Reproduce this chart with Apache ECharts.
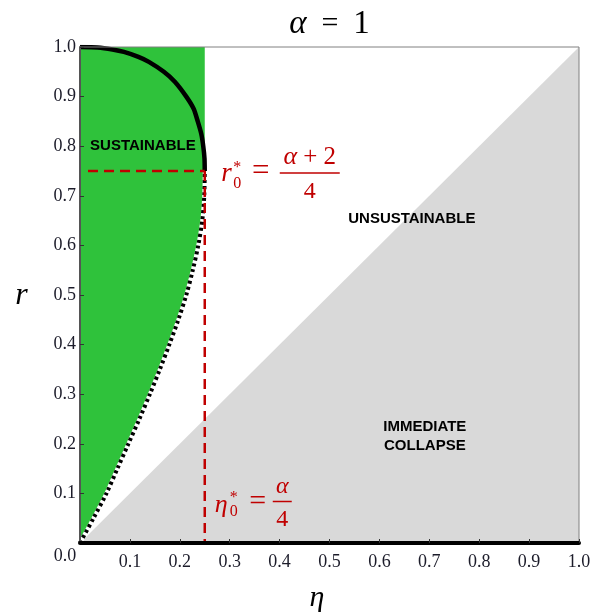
<!DOCTYPE html>
<html><head><meta charset="utf-8">
<script src="https://cdn.jsdelivr.net/npm/echarts@6/dist/echarts.min.js"></script>
<style>html,body{margin:0;padding:0;background:#fff}#c{width:604px;height:615px}</style>
</head><body><div id="c"></div>
<script>
// ---- data ----
const tickValues = [0,0.1,0.2,0.3,0.4,0.5,0.6,0.7,0.8,0.9,1.0];
// lower (dotted) boundary of the sustainable region: eta vs r
const lowerR   = [0, 0.05, 0.1, 0.15, 0.2, 0.25, 0.3, 0.35, 0.4, 0.45, 0.5, 0.55, 0.6, 0.65, 0.7, 0.75];
const lowerEta = [0, 0.027, 0.053, 0.075, 0.097, 0.119, 0.14, 0.16, 0.179, 0.197, 0.213, 0.226, 0.237, 0.245, 0.249, 0.25];
// upper (solid) arc
const upperEta = [0, 0.035, 0.065, 0.088, 0.117, 0.138, 0.168, 0.19, 0.213, 0.228, 0.236, 0.243, 0.247, 0.2495, 0.25];
const upperR   = [1, 0.999, 0.995, 0.99, 0.98, 0.97, 0.95, 0.93, 0.9, 0.875, 0.85, 0.825, 0.8, 0.775, 0.75];
// critical point
const etaStar = 0.25, rStar = 0.75;
const dashStartEta = 0.016;
// immediate-collapse boundary r = eta
const diagEta = [0, 1];
const diagR   = [0, 1];

const GREEN = '#2fc23b', GRAY = '#d9d9d9', RED = '#c00000';
const SERIF = '"Liberation Serif", "DejaVu Serif", serif';
const SANS = '"Liberation Sans", Arial, sans-serif';

const zip = (a,b)=>a.map((v,i)=>[v,b[i]]);

const axisCommon = {
  type:'value', min:0, max:1, interval:0.1, z:10,
  splitLine:{show:false},
  axisTick:{show:true, inside:true, length:4, lineStyle:{color:'#333', width:1}},
  axisLabel:{fontFamily:SERIF, fontSize:18, color:'#1c1c2a', showMinLabel:false,
             formatter:v=>v.toFixed(1)}
};

const option = {
  animation:false,
  backgroundColor:'#fff',
  grid:{left:80, top:47, width:499, height:496, show:true, borderColor:'#808080', borderWidth:1, z:9},
  xAxis:Object.assign({}, axisCommon, {
    axisLine:{show:true, lineStyle:{color:'#000', width:4}},
    axisLabel:Object.assign({}, axisCommon.axisLabel, {margin:10})
  }),
  yAxis:Object.assign({}, axisCommon, {
    axisLine:{show:true, lineStyle:{color:'#555', width:2}},
    axisLabel:Object.assign({}, axisCommon.axisLabel, {margin:4})
  }),
  series:[
    { // immediate collapse region
      type:'line', data:zip(diagEta, diagR), symbol:'none', z:1,
      lineStyle:{width:0}, areaStyle:{color:GRAY, opacity:1}
    },
    { // sustainable region
      type:'custom', z:2, data:[[0,0]],
      renderItem:(params, api)=>{
        const pts=[[0,0]];
        for(let i=0;i<lowerR.length;i++) pts.push([lowerEta[i], lowerR[i]]);
        pts.push([etaStar,1],[0,1]);
        return {type:'polygon', shape:{points:pts.map(p=>api.coord(p))}, style:{fill:GREEN}};
      }
    },
    { // dotted curve base
      type:'line', data:zip(lowerEta, lowerR), symbol:'none', smooth:0.3, z:3,
      lineStyle:{color:'#fff', width:4}
    },
    { // dotted curve
      type:'line', data:zip(lowerEta, lowerR), symbol:'none', smooth:0.3, z:4,
      lineStyle:{color:'#000', width:4, type:[3,3], cap:'butt'}
    },
    { // solid arc
      type:'line', data:zip(upperEta, upperR), symbol:'none', smooth:0.2, z:4,
      lineStyle:{color:'#000', width:4.5, join:'round'}
    },
    { // horizontal dashed
      type:'line', data:[[dashStartEta, rStar],[etaStar, rStar]], symbol:'none', z:5,
      lineStyle:{color:RED, width:2.5, type:[10,6]}
    },
    { // vertical dashed
      type:'line', data:[[etaStar, rStar],[etaStar, 0]], symbol:'none', z:5,
      lineStyle:{color:RED, width:2.5, type:[10,6]}
    }
  ]
};

const chart = echarts.init(document.getElementById('c'), null, {renderer:'canvas'});
chart.setOption(option);
const P = (x,y)=>chart.convertToPixel({gridIndex:0},[x,y]);

const txt = (x,y,text,font,color,align,extra)=>Object.assign({
  type:'text', z:100, x:x, y:y,
  style:{text:text, font:font, fill:color||'#000', textAlign:align||'center', textVerticalAlign:'middle'}
}, extra||{});

const g = [];
// title
const tc = P(0.5, 1);
g.push({type:'text', z:100, x:tc[0], y:24, style:{
  text:'{i|α}{s|  =  }{n|1}', textAlign:'center', textVerticalAlign:'middle',
  rich:{i:{font:'italic 33px '+SERIF, fill:'#000'}, s:{font:'30px '+SERIF, fill:'#000'}, n:{font:'33px '+SERIF, fill:'#000'}}
}});
// axis names
const yc = P(0, 0.5);
g.push(txt(21.5, yc[1]+1, 'r', 'italic 32px '+SERIF, '#000'));
const xc = P(0.475, 0);
g.push(txt(xc[0], 598, 'η', 'italic 30px '+SERIF, '#000'));
// 0.0 corner label
const o = P(0,0);
g.push(txt(o[0]-15, o[1]+13, '0.0', '18px '+SERIF, '#1c1c2a'));
// region labels
const s = P(0.126, 0.8);
g.push(txt(s[0], s[1], 'SUSTAINABLE', 'bold 15px '+SANS, '#000'));
const u = P(0.665, 0.653);
g.push(txt(u[0], u[1], 'UNSUSTAINABLE', 'bold 15px '+SANS, '#000'));
const ic = P(0.691, 0.216);
g.push(txt(ic[0], ic[1]-9, 'IMMEDIATE', 'bold 15px '+SANS, '#000'));
g.push(txt(ic[0], ic[1]+9.5, 'COLLAPSE', 'bold 15px '+SANS, '#000'));
// r0* annotation
const a = P(etaStar, rStar);
g.push(txt(a[0]+16.5, a[1]+3, 'r', 'italic 27px '+SERIF, RED, 'left'));
g.push(txt(a[0]+28.5, a[1]+13, '0', '16px '+SERIF, RED, 'left'));
g.push(txt(a[0]+28.5, a[1]-3, '*', '16px '+SERIF, RED, 'left'));
g.push(txt(a[0]+56, a[1]+1, '=', '31px '+SERIF, RED));
g.push(txt(a[0]+105, a[1]-14, '', '', RED, 'center',
  {style:{text:'{i|α}{n| + 2}', textAlign:'center', textVerticalAlign:'middle', fill:RED,
    rich:{i:{font:'italic 26px '+SERIF, fill:RED}, n:{font:'25px '+SERIF, fill:RED}}}}));
g.push({type:'line', z:100, shape:{x1:a[0]+75, y1:a[1]+2, x2:a[0]+135, y2:a[1]+2}, style:{stroke:RED, lineWidth:1.5}});
g.push(txt(a[0]+105, a[1]+21, '4', '24px '+SERIF, RED));
// eta0* annotation
const b = P(etaStar, 0);
g.push(txt(b[0]+10, b[1]-38, 'η', 'italic 26px '+SERIF, RED, 'left'));
g.push(txt(b[0]+25, b[1]-31, '0', '16px '+SERIF, RED, 'left'));
g.push(txt(b[0]+25, b[1]-45, '*', '16px '+SERIF, RED, 'left'));
g.push(txt(b[0]+53, b[1]-41, '=', '30px '+SERIF, RED));
g.push(txt(b[0]+77.5, b[1]-56, 'α', 'italic 24px '+SERIF, RED));
g.push({type:'line', z:100, shape:{x1:b[0]+68, y1:b[1]-41.5, x2:b[0]+87, y2:b[1]-41.5}, style:{stroke:RED, lineWidth:1.5}});
g.push(txt(b[0]+77.5, b[1]-23, '4', '24px '+SERIF, RED));

chart.setOption({graphic:g});
</script>
</body></html>
